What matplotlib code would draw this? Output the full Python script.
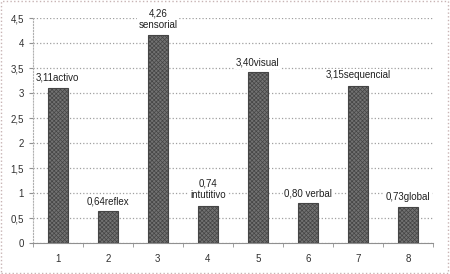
import matplotlib
matplotlib.use("Agg")
import matplotlib.pyplot as plt
from matplotlib.patches import Rectangle

categories = ["1", "2", "3", "4", "5", "6", "7", "8"]
values = [3.11, 0.64, 4.17, 0.74, 3.42, 0.80, 3.15, 0.73]
labels = ["3,11activo", "0,64reflex", "4,26\nsensorial", "0,74\nintutitivo",
          "3,40visual", "0,80 verbal", "3,15sequencial", "0,73global"]
yticks = [0, 0.5, 1, 1.5, 2, 2.5, 3, 3.5, 4, 4.5]
yticklabels = ["0", "0,5", "1", "1,5", "2", "2,5", "3", "3,5", "4", "4,5"]

plt.rcParams['font.family'] = ['Liberation Sans', 'DejaVu Sans']
plt.rcParams['hatch.color'] = '#555555'
plt.rcParams['hatch.linewidth'] = 0.5

fig = plt.figure(figsize=(4.5, 2.74), dpi=100)
fig.patches.append(Rectangle((0.003, 0.005), 0.992, 0.99, transform=fig.transFigure,
                             fill=False, edgecolor='#c8b4b4', linestyle=':', linewidth=1.0))
ax = fig.add_axes([0.073, 0.113, 0.889, 0.821])

x = list(range(len(categories)))
ax.bar(x, values, width=0.4, color='#727272', edgecolor='#454545', linewidth=0.8,
       hatch='xxxxxxxx', zorder=3)

ax.set_xlim(-0.5, len(categories) - 0.5)
ax.set_ylim(0, 4.5)
ax.set_yticks(yticks)
ax.set_yticklabels(yticklabels)
ax.set_xticks(x)
ax.set_xticklabels(categories)
ax.set_xticks([i + 0.5 for i in range(-1, len(categories))], minor=True)
ax.tick_params(axis='x', which='major', length=0, labelsize=7, pad=8, colors='#303030')
ax.tick_params(axis='x', which='minor', length=3, color='#909090', direction='out')
ax.tick_params(axis='y', length=3, labelsize=7, color='#909090', colors='#303030')

ax.yaxis.grid(True, linestyle=':', color='#a0a0a0', linewidth=0.9, zorder=0)
for s in ['top', 'right']:
    ax.spines[s].set_visible(False)
ax.spines['left'].set_color('#b0b0b0')
ax.spines['left'].set_linestyle(':')
ax.spines['bottom'].set_color('#909090')

offsets_pt = [3.5, 3.5, 3, 4, 3.5, 3, 4, 3]
for xi, v, lab, off in zip(x, values, labels, offsets_pt):
    ax.annotate(lab, (xi, v), xytext=(0, off), textcoords='offset points',
                ha='center', va='bottom', fontsize=7, color='#202020',
                linespacing=1.25, zorder=4,
                bbox=dict(facecolor='white', edgecolor='none', pad=1.0))

fig.savefig("out.png", dpi=100)
